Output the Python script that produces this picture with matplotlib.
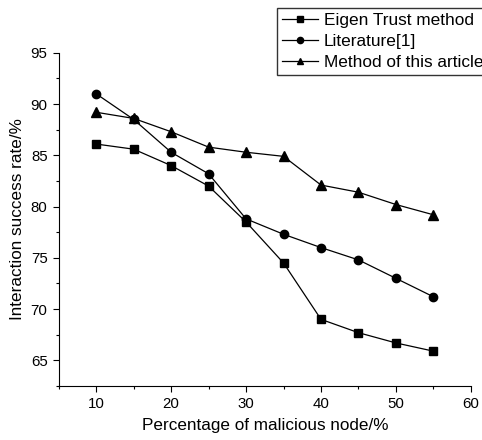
import matplotlib
matplotlib.use("Agg")
import matplotlib.pyplot as plt
from matplotlib.ticker import MultipleLocator

plt.rcParams["font.family"] = ["Liberation Sans", "DejaVu Sans"]

malicious = [10, 15, 20, 25, 30, 35, 40, 45, 50, 55]
eigen_trust = [86.1, 85.6, 84.0, 82.0, 78.5, 74.5, 69.0, 67.7, 66.7, 65.9]
literature = [91.0, 88.5, 85.3, 83.2, 78.8, 77.3, 76.0, 74.8, 73.0, 71.2]
this_method = [89.2, 88.6, 87.3, 85.8, 85.3, 84.9, 82.1, 81.4, 80.2, 79.2]

fig = plt.figure(figsize=(4.82, 4.4), dpi=100)
ax = fig.add_axes([0.1218, 0.1227, 0.977 - 0.1218, 0.880 - 0.1227])

ax.plot(malicious, eigen_trust, color="black", lw=0.9, marker="s", ms=5.5, label="Eigen Trust method")
ax.plot(malicious, literature, color="black", lw=0.9, marker="o", ms=6, label="Literature[1]")
ax.plot(malicious, this_method, color="black", lw=0.9, marker="^", ms=6.5, label="Method of this article")

ax.set_xlim(5, 60)
ax.set_ylim(62.5, 95)
ax.xaxis.set_major_locator(MultipleLocator(10))
ax.xaxis.set_minor_locator(MultipleLocator(5))
ax.yaxis.set_major_locator(MultipleLocator(5))
ax.yaxis.set_minor_locator(MultipleLocator(2.5))
ax.spines["top"].set_visible(False)
ax.spines["right"].set_visible(False)
ax.tick_params(which="major", direction="out", length=4.5, width=0.8, labelsize=10.8)
ax.tick_params(which="minor", direction="out", length=2.5, width=0.8)

ax.set_xlabel("Percentage of malicious node/%", fontsize=12.3, labelpad=5)
ax.set_ylabel("Interaction success rate/%", fontsize=12.3, labelpad=4)

leg = fig.legend(loc="upper left", bbox_to_anchor=(277 / 482, 1 - 8 / 440),
                 fontsize=12.4, frameon=True, fancybox=False, edgecolor="black",
                 handlelength=2.1, handletextpad=0.3, borderpad=0.3,
                 labelspacing=0.33, markerscale=0.75, borderaxespad=0)
leg.get_frame().set_linewidth(1.0)

fig.savefig("out.png", dpi=100)
